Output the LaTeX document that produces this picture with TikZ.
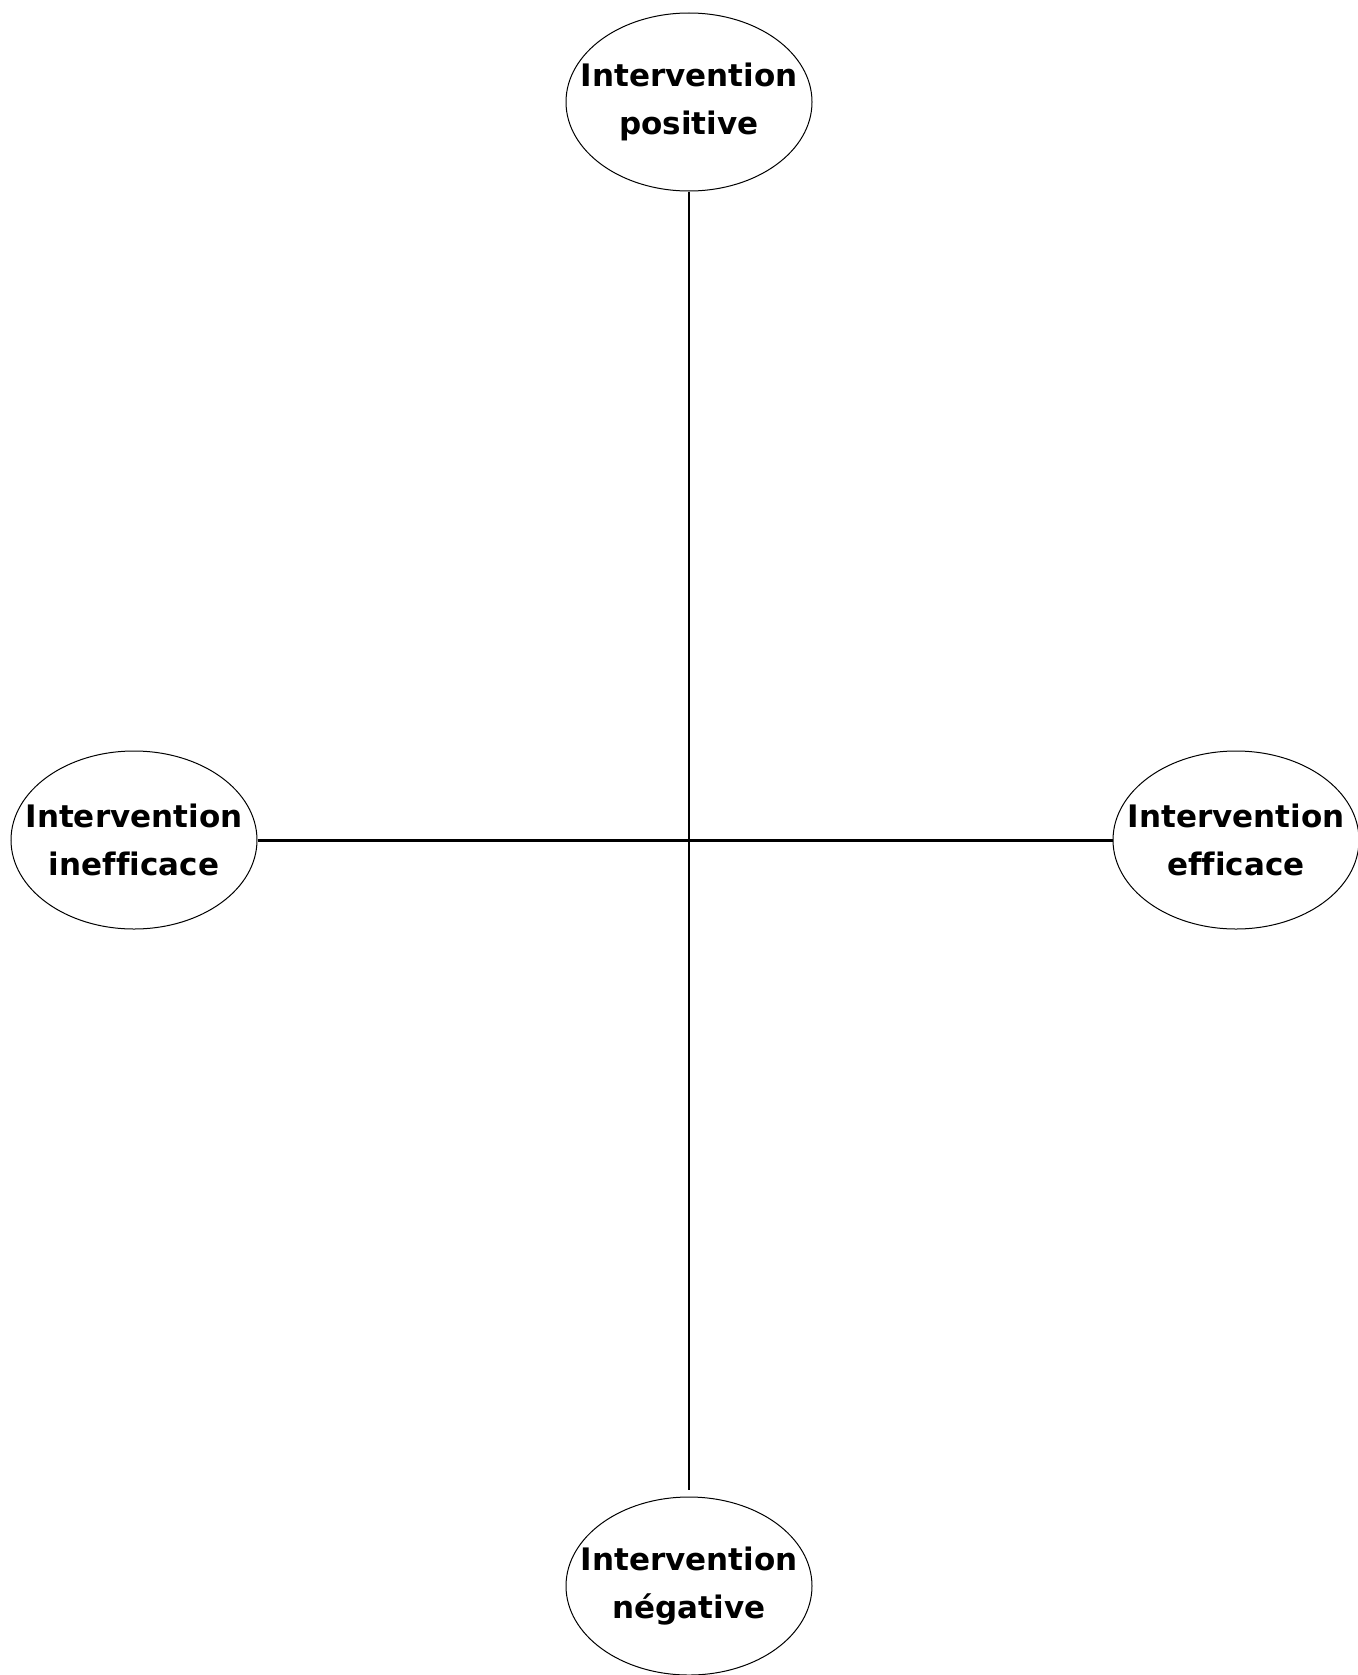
\documentclass[tikz,border=0pt]{standalone}
\usepackage{fontspec}
\setmainfont{DejaVu Sans}[Ligatures=NoCommon]
\usetikzlibrary{shapes.geometric}

\begin{document}
\begin{tikzpicture}[x=0.5pt, y=-0.5pt,
    oval/.style={ellipse, draw, line width=0.5pt, minimum width=123pt, minimum height=89pt, inner sep=0pt},
    txt/.style={align=center, font=\bfseries\fontsize{15.5}{24}\selectfont}]
        \useasboundingbox (0,0) rectangle (1358,1675);

        \node [oval, label={[txt]center:Intervention\\positive}] (pos) at (689, 102) {};
        \node [oval, label={[txt]center:Intervention\\négative}] (neg) at (689, 1586) {};
        \node [oval, label={[txt]center:Intervention\\inefficace}] (ineff) at (134, 840) {};
        \node [oval, label={[txt]center:Intervention\\efficace}] (eff) at (1236, 840) {};

        \draw [line width=1pt, shorten >=3.5pt] (pos) -- (neg);
        \draw [line width=1.5pt] (ineff) -- (eff);
      \end{tikzpicture}
\end{document}
